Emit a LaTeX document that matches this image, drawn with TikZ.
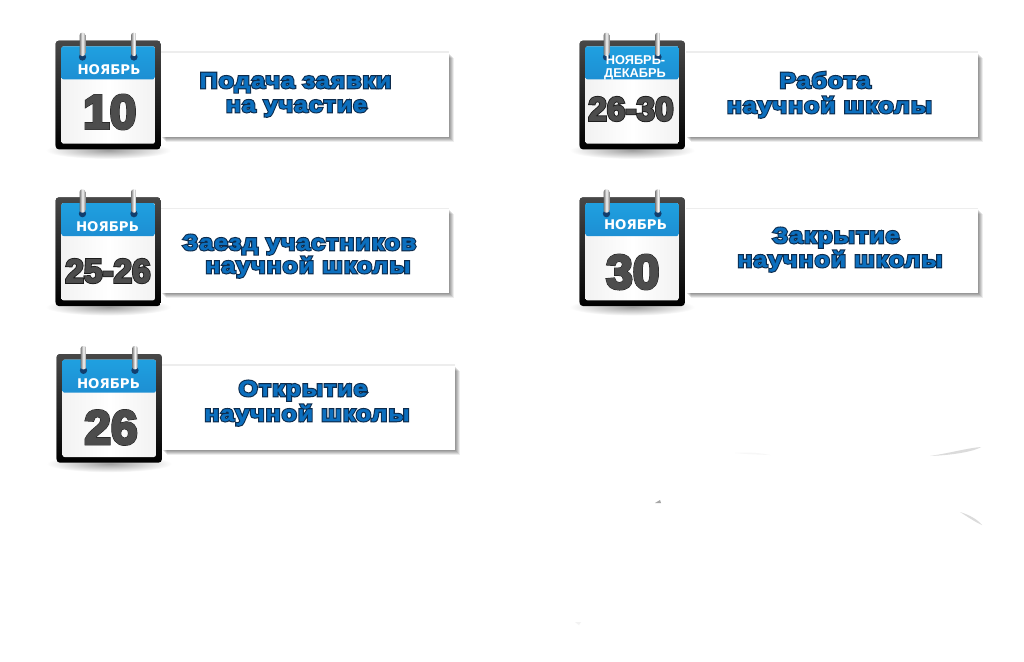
\documentclass[tikz,border=0pt]{standalone}
\usepackage{fontspec}
\usepackage{tikz}
\usetikzlibrary{positioning,shadows}
\setmainfont{Liberation Sans}
\newfontfamily\monthfont{DejaVu Sans}
\newfontfamily\titlefont[FakeStretch=1.14,LetterSpace=4.5]{Liberation Sans}
\definecolor{titleblue}{HTML}{0C6FBE}
\definecolor{dayfill}{HTML}{4D4D4D}
\definecolor{blue1}{HTML}{1FA0E0}
\definecolor{blue2}{HTML}{1A6DB9}
\definecolor{blue3}{HTML}{123F6E}
\newcommand{\ttl}[1]{\rlap{\special{pdf:code 0.05 0.17 0.30 RG 2 Tr 1.9 w}#1\special{pdf:code 0 Tr 0.4 w}}\special{pdf:code 0.047 0.435 0.745 RG 2 Tr 0.25 w}#1\special{pdf:code 0 Tr 0.4 w}}
\newcommand{\dayno}[3]{\rlap{\special{pdf:code 0.11 0.11 0.11 RG 2 Tr #1 w}#3\special{pdf:code 0 Tr 0.4 w}}\special{pdf:code 0.30 0.30 0.30 RG 2 Tr #2 w}#3\special{pdf:code 0 Tr 0.4 w}}

\begin{document}
\begin{tikzpicture}[x=0.75pt, y=-0.75pt, node distance=117.5pt,
frame node/.style={rounded corners=2.5pt,top color=black!72,bottom color=black,inner sep=0pt,minimum width=79pt,minimum height=81.5pt},
sheet node/.style={rounded corners=1.5pt,left color=black!5,right color=black!5,middle color=white,inner sep=0pt,minimum width=70pt,minimum height=73pt,
  path picture={\shade[top color=blue1,bottom color=blue2] (path picture bounding box.north west) rectangle ([yshift=-24.75pt]path picture bounding box.north east);}},
ring node/.style={rounded corners=1.8pt,left color=black!50,right color=black!45,middle color=black!3,inner sep=0pt,minimum width=4.2pt,minimum height=17.5pt},
hole node/.style={circle,fill=blue3,inner sep=0pt,minimum size=5.5pt},
panel node/.style={fill=white,inner sep=0pt,minimum height=63pt,
  drop shadow={shadow xshift=0pt,shadow yshift=1.3pt,fill=black,opacity=.07},
  drop shadow={shadow xshift=3.75pt,shadow yshift=-3.75pt,fill=black,opacity=.07},
  drop shadow={shadow xshift=3pt,shadow yshift=-3pt,fill=black,opacity=.1},
  drop shadow={shadow xshift=2.25pt,shadow yshift=-2.25pt,fill=black,opacity=.1},
  drop shadow={shadow xshift=1.5pt,shadow yshift=-1.5pt,fill=black,opacity=.1},
  drop shadow={shadow xshift=0.75pt,shadow yshift=-0.75pt,fill=black,opacity=.1}},
title node/.style={anchor=base,inner sep=0pt,text=titleblue,font=\fontsize{16.4}{18}\titlefont\bfseries},
month node/.style={anchor=base,inner sep=0pt,text=white,font=\fontsize{10}{12}\monthfont\bfseries},
small month node/.style={anchor=base,inner sep=0pt,text=white,font=\fontsize{9.6}{10}\bfseries},
day node/.style={anchor=base,inner sep=0pt,text=dayfill,font=\fontsize{36}{40}\bfseries},
small day node/.style={anchor=base,inner sep=0pt,text=dayfill,font=\fontsize{25}{28}\bfseries},
smudge/.style={fill=black!#1,draw=none},
smudge/.default=8]

\useasboundingbox[fill=white] (0,0) rectangle (1024,661);

% calendars
\node[frame node] (A) at (108.2,95) {};
\node[frame node] (B) [below of=A] {};
\node[frame node, xshift=0.75pt] (C) [below of=B] {};
\node[frame node] (D) [right of=A, node distance=393pt] {};
\node[frame node] (E) [below of=D] {};

% shadows below the calendars
\foreach \c in {A,B,C,D,E}
  \shade[inner color=black!38,outer color=white] ([yshift=-0.5pt]\c.south) ellipse (47pt and 6.5pt);

% panels
\node[panel node, minimum width=216pt] (PA) at (305,94.7) {};
\node[panel node, minimum width=216pt] (PB) at (305,251.3) {};
\node[panel node, minimum width=219.5pt] (PC) at (308.5,407.5) {};
\node[panel node, minimum width=218.5pt] (PD) at (832,94.7) {};
\node[panel node, minimum width=218.5pt] (PE) at (832,251.3) {};

\foreach \c in {A,B,C,D,E} {
  \node[frame node] (\c f) at (\c) {};
  \node[sheet node] (\c s) at (\c) {};
  \node[hole node] (\c h1) at ([xshift=-19.3pt,yshift=28.5pt]\c) {};
  \node[hole node] (\c h2) at ([xshift=19.3pt,yshift=28.5pt]\c) {};
  \node[ring node] (\c r1) at ([xshift=-19.3pt,yshift=38pt]\c) {};
  \node[ring node] (\c r2) at ([xshift=19.3pt,yshift=38pt]\c) {};
}

% months and days
\node[month node] (MA) at (109,74) {НОЯБРЬ};
\node[month node] (MB) at (107.5,231) {НОЯБРЬ};
\node[month node] (MC) at (108.5,388) {НОЯБРЬ};
\node[small month node] (MD1) at (635.5,64) {НОЯБРЬ-};
\node[small month node] (MD2) at (635,77) {ДЕКАБРЬ};
\node[month node] (ME) at (635.5,229.5) {НОЯБРЬ};

\node[day node] (DA) at (109.7,128.5) {\dayno{2.2}{1.5}{10}};
\node[small day node] (DB) at (108,282.5) {\dayno{2}{0.7}{25-26}};
\node[day node] (DC) at (111,444) {\dayno{2.2}{1.5}{26}};
\node[small day node] (DD) at (631,120.5) {\dayno{2}{0.7}{26-30}};
\node[day node] (DE) at (632.8,288.5) {\dayno{2.2}{1.5}{30}};

% titles
\node[title node] (TA1) at (295.5,88) {\ttl{Подача заявки}};
\node[title node] (TA2) at (296.5,112) {\ttl{на участие}};
\node[title node] (TB1) at (299.5,250) {\ttl{Заезд участников}};
\node[title node] (TB2) at (308,273) {\ttl{научной школы}};
\node[title node] (TC1) at (303,396) {\ttl{Открытие}};
\node[title node] (TC2) at (307,421) {\ttl{научной школы}};
\node[title node] (TD1) at (825,88) {\ttl{Работа}};
\node[title node] (TD2) at (829.5,113) {\ttl{научной школы}};
\node[title node] (TE1) at (836,243) {\ttl{Закрытие}};
\node[title node] (TE2) at (840,267) {\ttl{научной школы}};

% faint marks
\fill[smudge=3] (735,453) .. controls (750,452) and (760,453) .. (770,455) .. controls (755,454.5) and (745,454) .. (735,453);
\fill[smudge=14] (930,456) .. controls (950,453) and (968,448) .. (981,447) .. controls (975,451) and (955,455) .. (930,456);
\fill[smudge=35] (655,503) -- (660,500) -- (661,503) -- cycle;
\fill[smudge=14] (960,512) .. controls (970,515) and (978,520) .. (982,525) .. controls (975,522) and (968,517) .. (960,512);
\fill[smudge=5] (575,622) -- (581,622) -- (579,625) -- cycle;
\end{tikzpicture}
\end{document}
